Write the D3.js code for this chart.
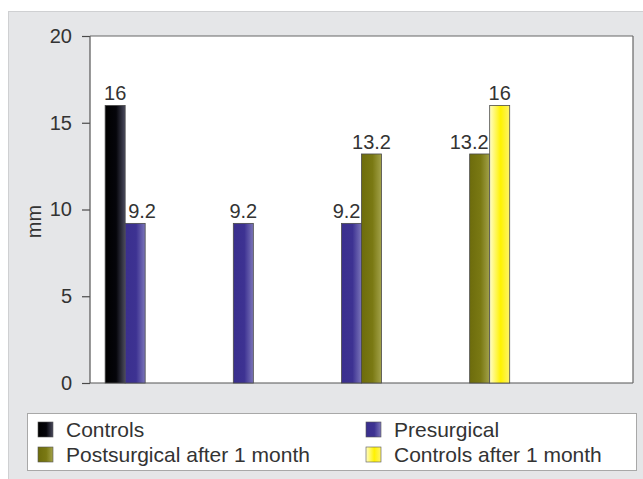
<!DOCTYPE html>
<html>
<head>
<meta charset="utf-8">
<script src="https://cdn.jsdelivr.net/npm/d3@7"></script>
<style>
  html, body { margin: 0; padding: 0; background: #ffffff; }
  svg { display: block; font-family: "Liberation Sans", Arial, sans-serif; }
</style>
</head>
<body>
<svg id="chart" width="643" height="479"></svg>
<script>
// Groups along the x axis (no category labels are shown)
const groups = ["g1", "g2", "g3", "g4", "g5"];
const seriesNames = ["Controls", "Presurgical", "Postsurgical after 1 month", "Controls after 1 month"];
// Values in mm per group; null = no bar
const controls        = [16,   null, null, null, null];
const presurgical     = [9.2,  9.2,  9.2,  null, null];
const postsurgical    = [null, null, 13.2, 13.2, null];
const controlsAfter   = [null, null, null, 16,   null];
const yTicks = [0, 5, 10, 15, 20];
const yLabel = "mm";

const seriesValues = [controls, presurgical, postsurgical, controlsAfter];
// horizontal gradient stops per series: [left, middle, right]
const seriesGrad = [
  ["#000000", "#05050a", "#4a4a5e"],
  ["#3a2f8e", "#3d3292", "#7b75b9"],
  ["#6d6c0c", "#7a7913", "#a3a24a"],
  ["#fffcc8", "#fff200", "#fff36a"]
];

const FONT = 20;
const LEGEND_FONT = 21;
const TEXT = "#333333";

const svg = d3.select("#chart");
const plot = { left: 90, right: 633, top: 36, bottom: 383 };

// outer grey panel
svg.append("rect")
  .attr("x", 8.5).attr("y", 11.5)
  .attr("width", 643).attr("height", 480)
  .attr("fill", "#e5e6e8").attr("stroke", "#cfd0d2").attr("stroke-width", 1);

// gradients
const defs = svg.append("defs");
seriesGrad.forEach((g, i) => {
  const lg = defs.append("linearGradient").attr("id", "grad" + i)
    .attr("x1", "0%").attr("x2", "100%").attr("y1", "0%").attr("y2", "0%");
  lg.append("stop").attr("offset", "0%").attr("stop-color", g[0]);
  lg.append("stop").attr("offset", "55%").attr("stop-color", g[1]);
  lg.append("stop").attr("offset", "100%").attr("stop-color", g[2]);
});

// plot background
svg.append("rect")
  .attr("x", plot.left).attr("y", plot.top)
  .attr("width", plot.right - plot.left).attr("height", plot.bottom - plot.top)
  .attr("fill", "#ffffff");

const y = d3.scaleLinear().domain([0, 20]).range([plot.bottom, plot.top]);
const x = d3.scaleBand().domain(groups).range([plot.left, plot.right])
  .paddingInner(0.26).paddingOuter(0.14);
const x1 = d3.scaleBand().domain(d3.range(seriesNames.length)).range([0, x.bandwidth()]);

// y axis
const yAxis = svg.append("g")
  .attr("transform", `translate(${plot.left},0)`)
  .call(d3.axisLeft(y).tickValues(yTicks).tickSize(8).tickPadding(10));
yAxis.select(".domain").remove();
yAxis.selectAll(".tick line").attr("stroke", "#4a4a4a").attr("stroke-width", 1.2);
yAxis.selectAll(".tick text")
  .attr("font-size", FONT).attr("fill", TEXT)
  .attr("font-family", "'Liberation Sans', Arial, sans-serif");

// frame lines: left axis, bottom axis, top and right borders
const frame = svg.append("g").attr("stroke", "#555").attr("stroke-width", 1.2).attr("fill", "none");
frame.append("line").attr("x1", plot.left).attr("x2", plot.left).attr("y1", plot.top).attr("y2", plot.bottom);
frame.append("line").attr("x1", plot.left).attr("x2", plot.right).attr("y1", plot.bottom).attr("y2", plot.bottom);
frame.append("line").attr("x1", plot.left).attr("x2", plot.right).attr("y1", plot.top).attr("y2", plot.top).attr("stroke", "#666");
frame.append("line").attr("x1", plot.right).attr("x2", plot.right).attr("y1", plot.top).attr("y2", plot.bottom).attr("stroke", "#666");

// y axis title
svg.append("text")
  .attr("transform", `translate(41,${(plot.top + plot.bottom) / 2 + 12}) rotate(-90)`)
  .attr("text-anchor", "middle")
  .attr("font-size", FONT).attr("fill", TEXT)
  .text(yLabel);

// bars
const bars = [];
groups.forEach((g, gi) => {
  seriesValues.forEach((vals, si) => {
    const v = vals[gi];
    if (v == null) return;
    bars.push({ g, gi, si, v });
  });
});

svg.append("g").selectAll("rect").data(bars).join("rect")
  .attr("x", d => x(d.g) + x1(d.si))
  .attr("y", d => y(d.v))
  .attr("width", x1.bandwidth())
  .attr("height", d => y(0) - y(d.v))
  .attr("fill", d => `url(#grad${d.si})`)
  .attr("stroke", "#4a4a4a").attr("stroke-width", 0.8);

// value labels; shifted away from a taller neighbouring bar
const valueAt = (gi, si) => (si >= 0 && si < seriesValues.length) ? seriesValues[si][gi] : null;
svg.append("g").selectAll("text").data(bars).join("text")
  .each(function (d) {
    const left = x(d.g) + x1(d.si);
    const w = x1.bandwidth();
    const rightN = valueAt(d.gi, d.si + 1);
    const leftN = valueAt(d.gi, d.si - 1);
    const t = d3.select(this);
    if (rightN != null && rightN > d.v) {
      t.attr("x", left + w - 1).attr("text-anchor", "end");
    } else if (leftN != null && leftN > d.v) {
      t.attr("x", left + 3).attr("text-anchor", "start");
    } else {
      t.attr("x", left + w / 2).attr("text-anchor", "middle");
    }
  })
  .attr("y", d => y(d.v) - 5)
  .attr("font-size", FONT).attr("fill", TEXT)
  .text(d => d3.format("")(d.v));

// legend
const legend = svg.append("g");
legend.append("rect")
  .attr("x", 27.5).attr("y", 413.5).attr("width", 609).attr("height", 57)
  .attr("fill", "#ffffff").attr("stroke", "#a8a8a8").attr("stroke-width", 1);
const legPos = [[38, 422], [366, 422], [38, 447], [366, 447]];
seriesNames.forEach((name, i) => {
  const [lx, ly] = legPos[i];
  legend.append("rect")
    .attr("x", lx).attr("y", ly).attr("width", 15).attr("height", 15)
    .attr("fill", `url(#grad${i})`).attr("stroke", "#555").attr("stroke-width", 0.6);
  legend.append("text")
    .attr("x", lx + 28).attr("y", ly + 15)
    .attr("font-size", LEGEND_FONT).attr("fill", TEXT)
    .text(name);
});
</script>
</body>
</html>
